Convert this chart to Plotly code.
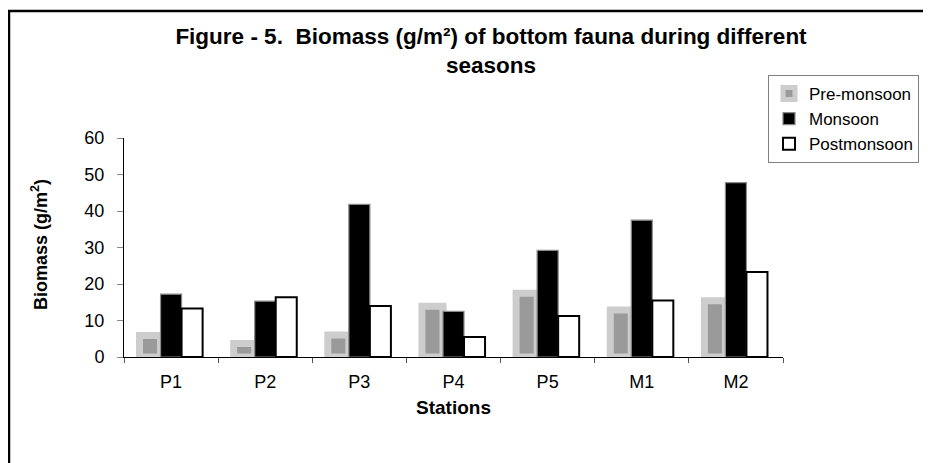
import plotly.graph_objects as go

stations = ["P1", "P2", "P3", "P4", "P5", "M1", "M2"]
pre_monsoon = [5.9, 3.7, 6.0, 13.9, 17.5, 12.9, 15.4]
monsoon = [17.2, 15.3, 41.8, 12.5, 29.2, 37.5, 47.8]
postmonsoon = [13.3, 16.4, 14.0, 5.5, 11.2, 15.5, 23.3]
y_ticks = [0, 10, 20, 30, 40, 50, 60]

FONT = "Liberation Sans, Arial, sans-serif"

fig = go.Figure()
fig.add_trace(go.Bar(
    name="Pre-monsoon", x=stations, y=pre_monsoon,
    marker=dict(color="#9a9a9a", line=dict(color="#cdcdcd", width=7)),
))
fig.add_trace(go.Bar(
    name="Monsoon", x=stations, y=monsoon,
    marker=dict(color="#000000", line=dict(color="#8a8a8a", width=1.2)),
))
fig.add_trace(go.Bar(
    name="Postmonsoon", x=stations, y=postmonsoon,
    marker=dict(color="#ffffff", line=dict(color="#000000", width=2)),
))

# the page body adds an 8px offset; margins compensate for it
OFF = 8
W, H = 931, 463
L, R, T, B = 124 - OFF, 931 - 783 + OFF, 138 - OFF, 463 - 357 + OFF
pw, ph = W - L - R, H - T - B

fig.update_layout(
    width=W, height=H,
    margin=dict(l=L, r=R, t=T, b=B, pad=0),
    paper_bgcolor="white", plot_bgcolor="white",
    font=dict(family=FONT, size=18, color="black"),
    barmode="group", bargap=0.33, bargroupgap=0,
    showlegend=True,
    legend=dict(
        x=(768 - OFF - L) / pw, xanchor="left",
        y=(H - B - (75 - OFF)) / ph, yanchor="top",
        font=dict(family=FONT, size=17, color="black"),
        bordercolor="#808080", borderwidth=1, bgcolor="white",
        tracegroupgap=0, itemwidth=30,
    ),
    title=dict(
        text="Figure - 5.  Biomass (g/m²) of bottom fauna during different<br>seasons",
        font=dict(family=FONT, size=22.5, color="black", weight="bold"),
        x=(491 - OFF) / W, xanchor="center", xref="container",
        y=1 - (44 - OFF) / H, yanchor="middle", yref="container",
    ),
    xaxis=dict(
        showline=True, linecolor="black", linewidth=1,
        ticks="outside", tickson="boundaries", ticklen=5, tickcolor="#555",
        tickfont=dict(family=FONT, size=18, color="black"),
        ticklabelstandoff=8,
        title=dict(text="<b>Stations</b>", font=dict(family=FONT, size=19, color="black"), standoff=10),
        showgrid=False,
    ),
    yaxis=dict(
        range=[0, 60], tickvals=y_ticks,
        showline=True, linecolor="black", linewidth=1,
        ticks="outside", ticklen=6, tickcolor="#888",
        tickfont=dict(family=FONT, size=18, color="black"),
        ticklabelstandoff=9,
        showgrid=False, zeroline=False,
    ),
    annotations=[dict(
        text="<b>Biomass (g/m<sup>2</sup>)</b>", textangle=-90,
        xref="paper", yref="paper",
        x=(39 - OFF - L) / pw, y=(357 - 245) / 219, xanchor="center", yanchor="middle",
        showarrow=False, font=dict(family=FONT, size=18, color="black"),
    )],
    shapes=[dict(
        type="rect", xref="paper", yref="paper",
        x0=(9 - OFF - L) / pw, x1=(W + 20 - L) / pw,
        y0=-(B + 20) / ph, y1=(H - B - (11 - OFF)) / ph,
        line=dict(color="black", width=2.5), fillcolor="rgba(0,0,0,0)", layer="below",
    )],
)

fig.write_html("out.html")
